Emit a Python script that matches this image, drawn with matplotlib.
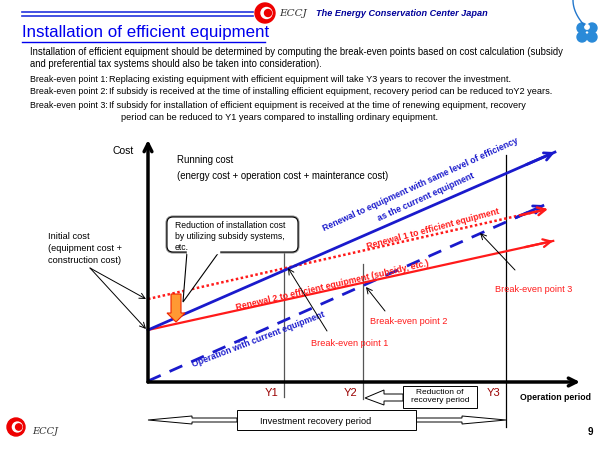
import numpy as np
import matplotlib
matplotlib.use("Agg")
import matplotlib.pyplot as plt
from matplotlib.patches import Circle, FancyBboxPatch, Polygon, FancyArrow, Rectangle

plt.rcParams['font.family'] = ['Liberation Sans', 'DejaVu Sans']

# ── DATA (chart units: period 0..10, cost 0..10) ─────────────────────────────
blue_solid_x  = [0, 9.42]
blue_solid_y  = [2.15, 9.50]
red_dotted_x  = [0, 9.26]
red_dotted_y  = [3.43, 7.15]
red_solid_x   = [0, 9.38]
red_solid_y   = [2.15, 5.83]
blue_dashed_x = [0, 9.17]
blue_dashed_y = [0.04, 7.31]

year_labels = ["Y1", "Y2", "Y3"]
year_x      = [3.15, 4.98, 8.29]
year_top    = [5.33, 4.88, 9.38]
year_bottom = [-0.62, -0.70, -1.86]

title = "Installation of efficient equipment"
intro = ["Installation of efficient equipment should be determined by computing the break-even points based on cost calculation (subsidy",
         "and preferential tax systems should also be taken into consideration)."]
bep_labels = ["Break-even point 1:", "Break-even point 2:", "Break-even point 3:"]
bep_texts = ["Replacing existing equipment with efficient equipment will take Y3 years to recover the investment.",
             "If subsidy is received at the time of installing efficient equipment, recovery period can be reduced toY2 years.",
             "If subsidy for installation of efficient equipment is received at the time of renewing equipment, recovery"]
bep_cont = "period can be reduced to Y1 years compared to installing ordinary equipment."

BLUE  = "#1a1acc"
RED   = "#ff1a1a"
DKRED = "#990000"

fig = plt.figure(figsize=(6, 4.5), dpi=100)

# os wykresu pod spodem, warstwa opisow na wierzchu
cx = fig.add_axes([148/600, (450-382)/450, 432/600, 242/450], zorder=1)
cx.set_xlim(0, 10)
cx.set_ylim(0, 10)
cx.axis("off")

ax = fig.add_axes([0, 0, 1, 1], zorder=2)
ax.set_xlim(0, 600)
ax.set_ylim(450, 0)
ax.axis("off")

# ── NAGLOWEK ─────────────────────────────────────────────────────────────────
ax.plot([22, 253], [12, 12], color="#2233dd", lw=1.2)
ax.plot([22, 253], [15.5, 15.5], color="#2233dd", lw=1.2)

def logo(x, y, r):
    ax.add_patch(Circle((x, y), r, color="#ee0000", zorder=5))
    ax.add_patch(Circle((x + r*0.15, y), r*0.55, color="white", zorder=6))
    ax.add_patch(Circle((x + r*0.3, y), r*0.35, color="#ee0000", zorder=7))

logo(265, 13, 10)
ax.text(279, 13, "ECCJ", fontsize=7.5, family="DejaVu Serif", style="italic",
        color="#333333", va="center")
ax.text(316, 13, "The Energy Conservation Center Japan", fontsize=6.6, style="italic",
        weight="bold", color="#000099", va="center")

# koniczyna
t = np.linspace(0, 1, 30)
ax.plot(573 + 11*t**2, 0 + 25*t, color="#2277cc", lw=1)
for dx, dy in [(-5, -4), (5, -4), (-5, 5), (5, 5)]:
    ax.add_patch(Circle((587 + dx, 32 + dy), 5, color="#2a8ad8"))
ax.add_patch(Circle((587, 27), 2.2, color="white"))

ax.text(22, 33, title, fontsize=12.2, color="#0000ee", va="center")
ax.plot([22, 265], [42, 42], color="#0000ee", lw=1)

fs = 6.85
ax.text(30, 52, intro[0], fontsize=fs, va="center")
ax.text(30, 64, intro[1], fontsize=fs, va="center")
for i, (lab, txt) in enumerate(zip(bep_labels, bep_texts)):
    y = 79 + i*13
    ax.text(30, y, lab, fontsize=6.4, va="center")
    ax.text(109, y, txt, fontsize=6.6, va="center")
ax.text(121, 117, bep_cont, fontsize=6.6, va="center")

# ── WYKRES ───────────────────────────────────────────────────────────────────
cx.annotate("", xy=(10, 0), xytext=(0, 0), annotation_clip=False,
            arrowprops=dict(arrowstyle="->", lw=2.5, color="black",
                            mutation_scale=14, shrinkA=0, shrinkB=0))
cx.annotate("", xy=(0, 10), xytext=(0, 0), annotation_clip=False,
            arrowprops=dict(arrowstyle="->", lw=2.5, color="black",
                            mutation_scale=14, shrinkA=0, shrinkB=0))

for x, top, bot in zip(year_x, year_top, year_bottom):
    cx.plot([x, x], [bot, top], color="#555555" if x < 6 else "black",
            lw=0.9, clip_on=False)

def arrow_line(xs, ys, color, lw, ls):
    cx.plot(xs, ys, color=color, lw=lw, ls=ls, clip_on=False)
    fx = xs[0] + 0.93*(xs[1]-xs[0])
    fy = ys[0] + 0.93*(ys[1]-ys[0])
    cx.annotate("", xy=(xs[1], ys[1]), xytext=(fx, fy), annotation_clip=False,
                arrowprops=dict(arrowstyle="->", lw=lw, color=color,
                                mutation_scale=14, shrinkA=0, shrinkB=0))

arrow_line(blue_dashed_x, blue_dashed_y, BLUE, 2.0, (0, (5, 3.5)))
arrow_line(red_dotted_x, red_dotted_y, RED, 1.8, (0, (1, 1)))
arrow_line(red_solid_x, red_solid_y, RED, 1.6, "-")
arrow_line(blue_solid_x, blue_solid_y, BLUE, 2.0, "-")

for lab, x in zip(year_labels, year_x):
    cx.text(x - 0.3, -0.45, lab, fontsize=8, color=DKRED, ha="center",
            va="center", clip_on=False)

# ── OPISY ────────────────────────────────────────────────────────────────────
ax.text(123, 151, "Cost", fontsize=7.5, ha="center", va="center")
ax.text(555, 397, "Operation period", fontsize=6.3, weight="bold", ha="center", va="center")
ax.text(177, 160, "Running cost", fontsize=6.9, va="center")
ax.text(177, 176, "(energy cost + operation cost + mainterance cost)", fontsize=6.9, va="center")
ax.text(48, 232, "Initial cost\n(equipment cost +\nconstruction cost)", fontsize=6.7,
        va="top", linespacing=1.4)
for ty in [299, 329]:
    ax.annotate("", xy=(146, ty), xytext=(90, 268),
                arrowprops=dict(arrowstyle="->", lw=0.7, color="black",
                                shrinkA=0, shrinkB=0))

rot_kw = dict(ha="center", va="center", rotation_mode="anchor", weight="bold", fontsize=6.3)
ax.text(420, 185, "Renewal to equipment with same level of efficiency", color=BLUE, rotation=24.5, **rot_kw)
ax.text(426, 197, "as the current equipment", color=BLUE, rotation=24.5, **rot_kw)
ax.text(433, 229, "Renewal 1 to efficient equipment", color=RED, rotation=15, **rot_kw)
ax.text(332, 285, "Renewal 2 to efficient equipment (subsidy, etc.)", color=RED, rotation=13, **rot_kw)
ax.text(258, 339, "Operation with current equipment", color=BLUE, rotation=21, **rot_kw)

for lab, (tx, ty), (ax0, ay0), (ax1, ay1) in [
        ("Break-even point 1", (311, 343), (327, 331), (288, 268)),
        ("Break-even point 2", (370, 322), (385, 311), (366, 287)),
        ("Break-even point 3", (495, 289), (515, 270), (480, 233))]:
    ax.text(tx, ty, lab, fontsize=6.6, color=RED, va="center")
    ax.annotate("", xy=(ax1, ay1), xytext=(ax0, ay0),
                arrowprops=dict(arrowstyle="->", lw=0.7, color="black",
                                shrinkA=0, shrinkB=0))

# dymek
tail = Polygon([[187, 252], [219, 252], [183, 302]], closed=True,
               facecolor="white", edgecolor="black", lw=0.8, zorder=8)
ax.add_patch(tail)
ax.add_patch(FancyBboxPatch((167, 217), 131, 35, boxstyle="round,pad=0,rounding_size=6",
                            facecolor="white", edgecolor="#888888", lw=2.2, zorder=9))
ax.add_patch(FancyBboxPatch((167, 217), 131, 35, boxstyle="round,pad=0,rounding_size=6",
                            facecolor="white", edgecolor="black", lw=0.8, zorder=9))
ax.plot([188, 218], [252, 252], color="white", lw=2.5, zorder=10)
ax.text(175, 221, "Reduction of installation cost\nby utilizing subsidy systems,\netc.",
        fontsize=6.2, va="top", linespacing=1.3, zorder=11)

# pomaranczowa strzalka
ax.add_patch(FancyArrow(176, 294, 0, 28, width=10, head_width=18, head_length=9,
                        length_includes_head=True, facecolor="#ff9933",
                        edgecolor="#ee2200", lw=0.8, zorder=12))

# dolne strzalki
ax.add_patch(Polygon([[403, 394], [384, 394], [384, 390], [365, 398], [384, 405],
                      [384, 401], [403, 401]], closed=True, facecolor="white",
                     edgecolor="black", lw=0.7))
ax.add_patch(Rectangle((403, 386), 74, 22, facecolor="white", edgecolor="black", lw=0.7))
ax.text(440, 397, "Reduction of\nrecovery period", fontsize=6, ha="center",
        va="center", linespacing=1.2)

ax.add_patch(Polygon([[148, 420], [192, 416], [192, 418], [237, 418], [237, 422],
                      [192, 422], [192, 424]], closed=True, facecolor="white",
                     edgecolor="black", lw=0.7))
ax.add_patch(Polygon([[506, 420], [462, 416], [462, 418], [416, 418], [416, 422],
                      [462, 422], [462, 424]], closed=True, facecolor="white",
                     edgecolor="black", lw=0.7))
ax.add_patch(Rectangle((237, 410), 179, 20, facecolor="white", edgecolor="black", lw=0.7))
ax.text(316, 421, "Investment recovery period", fontsize=6.6, ha="center", va="center")

# stopka
logo(16, 427, 9)
ax.text(32, 432, "ECCJ", fontsize=7, family="DejaVu Serif", style="italic",
        color="#333333", va="center")
ax.text(590, 432, "9", fontsize=7, weight="bold", ha="center", va="center")

fig.savefig("out.png", dpi=100)
